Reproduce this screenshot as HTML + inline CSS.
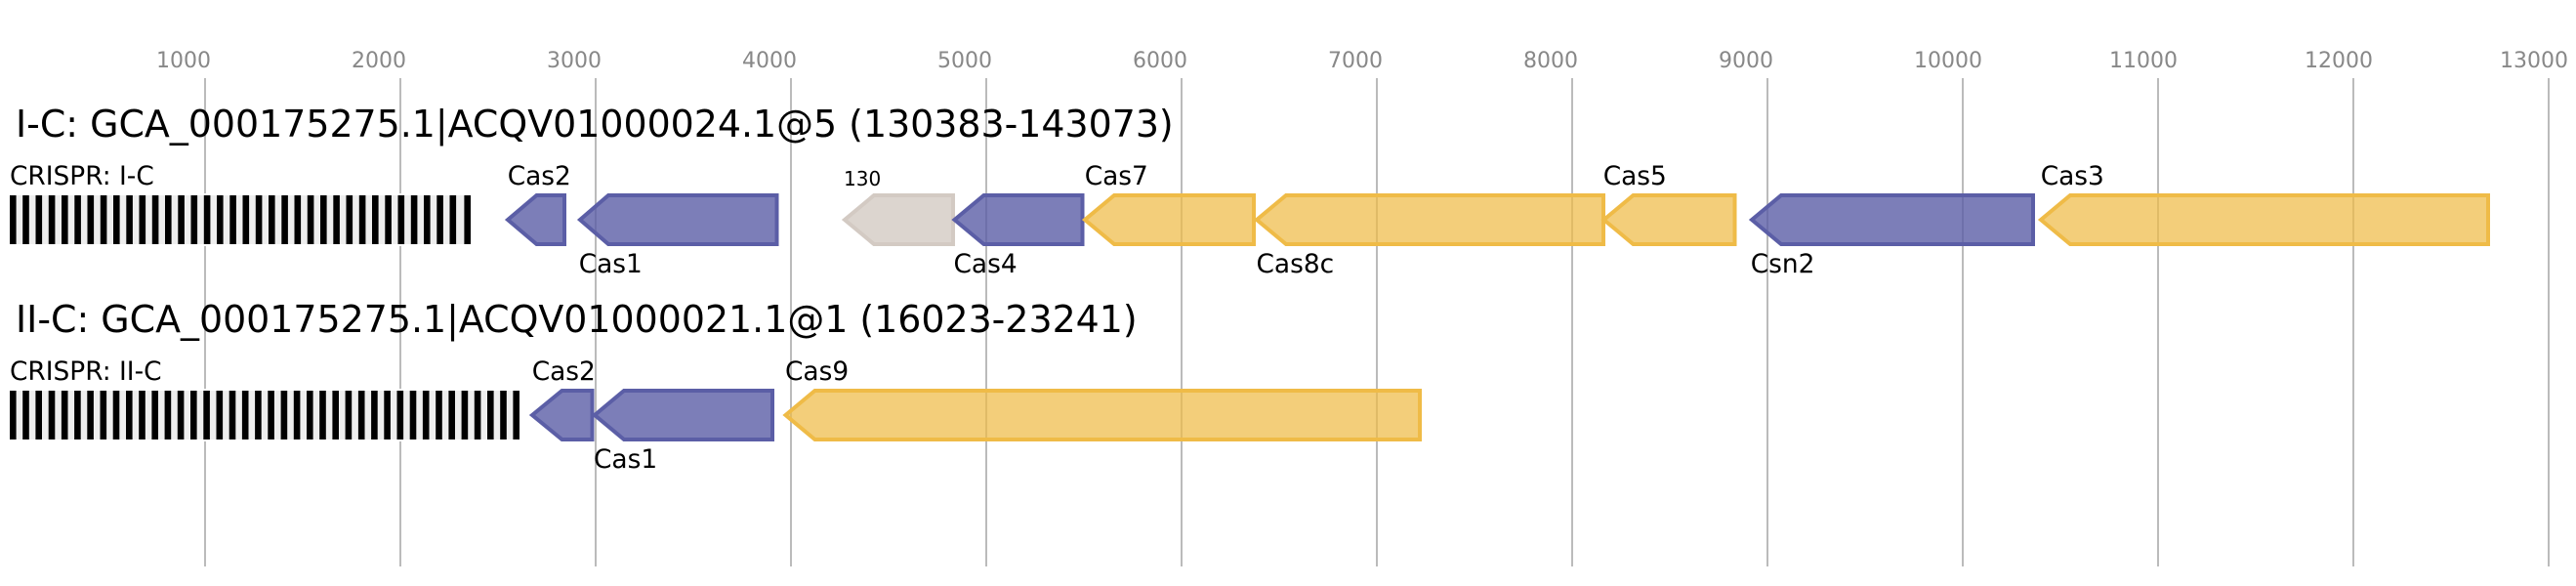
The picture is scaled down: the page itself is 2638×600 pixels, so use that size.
<!DOCTYPE html>
<html>
<head>
<meta charset="utf-8">
<style>
html,body{margin:0;padding:0;background:#fff;}
svg{display:block;}
text{font-family:"DejaVu Sans",sans-serif;}
.t{font-size:22px;fill:#888;}
.h{font-size:37.9px;fill:#000;}
.l{font-size:26.4px;fill:#000;}
.s{font-size:20px;fill:#000;}
.g{stroke:#bbb;stroke-width:2;}
.p{fill:#5b5ea6;fill-opacity:.8;stroke:#5b5ea6;stroke-width:4;stroke-opacity:1;}
.y{fill:#efbb47;fill-opacity:.72;stroke:#efbb47;stroke-width:4;}
.n{fill:#d3cac3;fill-opacity:.8;stroke:#d3cac3;stroke-width:4;}
</style>
</head>
<body>
<svg xmlns="http://www.w3.org/2000/svg" width="2638" height="600" viewBox="0 0 2638 600">
<rect width="2638" height="600" fill="#fff"/>
<g class="g">
<line x1="210" y1="80" x2="210" y2="580"/><line x1="410" y1="80" x2="410" y2="580"/><line x1="610" y1="80" x2="610" y2="580"/><line x1="810" y1="80" x2="810" y2="580"/><line x1="1010" y1="80" x2="1010" y2="580"/><line x1="1210" y1="80" x2="1210" y2="580"/><line x1="1410" y1="80" x2="1410" y2="580"/><line x1="1610" y1="80" x2="1610" y2="580"/><line x1="1810" y1="80" x2="1810" y2="580"/><line x1="2010" y1="80" x2="2010" y2="580"/><line x1="2210" y1="80" x2="2210" y2="580"/><line x1="2410" y1="80" x2="2410" y2="580"/><line x1="2610" y1="80" x2="2610" y2="580"/>
</g>
<g class="t">
<text x="160" y="69">1000</text><text x="360" y="69">2000</text><text x="560" y="69">3000</text><text x="760" y="69">4000</text><text x="960" y="69">5000</text><text x="1160" y="69">6000</text><text x="1360" y="69">7000</text><text x="1560" y="69">8000</text><text x="1760" y="69">9000</text><text x="1960" y="69">10000</text><text x="2160" y="69">11000</text><text x="2360" y="69">12000</text><text x="2560" y="69">13000</text>
</g>
<text class="h" x="16" y="140">I-C: GCA_000175275.1|ACQV01000024.1@5 (130383-143073)</text>
<text class="h" x="16" y="340">II-C: GCA_000175275.1|ACQV01000021.1@1 (16023-23241)</text>
<text class="l" x="10" y="189">CRISPR: I-C</text>
<text class="l" x="10" y="389">CRISPR: II-C</text>

<rect x="8" y="198" width="476" height="54" fill="#fff"/>
<rect x="10" y="200" width="472" height="50" fill="#eee"/>
<g fill="#000">
<rect x="10.0" y="200" width="6.6" height="50"/><rect x="23.2" y="200" width="6.6" height="50"/><rect x="36.5" y="200" width="6.6" height="50"/><rect x="49.8" y="200" width="6.6" height="50"/><rect x="63.0" y="200" width="6.6" height="50"/><rect x="76.3" y="200" width="6.6" height="50"/><rect x="89.5" y="200" width="6.6" height="50"/><rect x="102.8" y="200" width="6.6" height="50"/><rect x="116.0" y="200" width="6.6" height="50"/><rect x="129.3" y="200" width="6.6" height="50"/><rect x="142.5" y="200" width="6.6" height="50"/><rect x="155.8" y="200" width="6.6" height="50"/><rect x="169.0" y="200" width="6.6" height="50"/><rect x="182.3" y="200" width="6.6" height="50"/><rect x="195.5" y="200" width="6.6" height="50"/><rect x="208.8" y="200" width="6.6" height="50"/><rect x="222.0" y="200" width="6.6" height="50"/><rect x="235.3" y="200" width="6.6" height="50"/><rect x="248.5" y="200" width="6.6" height="50"/><rect x="261.8" y="200" width="6.6" height="50"/><rect x="275.0" y="200" width="6.6" height="50"/><rect x="288.3" y="200" width="6.6" height="50"/><rect x="301.5" y="200" width="6.6" height="50"/><rect x="314.8" y="200" width="6.6" height="50"/><rect x="328.0" y="200" width="6.6" height="50"/><rect x="341.3" y="200" width="6.6" height="50"/><rect x="354.5" y="200" width="6.6" height="50"/><rect x="367.8" y="200" width="6.6" height="50"/><rect x="381.0" y="200" width="6.6" height="50"/><rect x="394.3" y="200" width="6.6" height="50"/><rect x="407.5" y="200" width="6.6" height="50"/><rect x="420.8" y="200" width="6.6" height="50"/><rect x="434.0" y="200" width="6.6" height="50"/><rect x="447.3" y="200" width="6.6" height="50"/><rect x="460.5" y="200" width="6.6" height="50"/><rect x="475.4" y="200" width="6.6" height="50"/>
</g>

<rect x="8" y="398" width="526" height="54" fill="#fff"/>
<rect x="10" y="400" width="522" height="50" fill="#eee"/>
<g fill="#000">
<rect x="10.0" y="400" width="6.6" height="50"/><rect x="23.2" y="400" width="6.6" height="50"/><rect x="36.4" y="400" width="6.6" height="50"/><rect x="49.7" y="400" width="6.6" height="50"/><rect x="62.9" y="400" width="6.6" height="50"/><rect x="76.1" y="400" width="6.6" height="50"/><rect x="89.3" y="400" width="6.6" height="50"/><rect x="102.5" y="400" width="6.6" height="50"/><rect x="115.7" y="400" width="6.6" height="50"/><rect x="129.0" y="400" width="6.6" height="50"/><rect x="142.2" y="400" width="6.6" height="50"/><rect x="155.4" y="400" width="6.6" height="50"/><rect x="168.6" y="400" width="6.6" height="50"/><rect x="181.8" y="400" width="6.6" height="50"/><rect x="195.0" y="400" width="6.6" height="50"/><rect x="208.3" y="400" width="6.6" height="50"/><rect x="221.5" y="400" width="6.6" height="50"/><rect x="234.7" y="400" width="6.6" height="50"/><rect x="247.9" y="400" width="6.6" height="50"/><rect x="261.1" y="400" width="6.6" height="50"/><rect x="274.3" y="400" width="6.6" height="50"/><rect x="287.6" y="400" width="6.6" height="50"/><rect x="300.8" y="400" width="6.6" height="50"/><rect x="314.0" y="400" width="6.6" height="50"/><rect x="327.2" y="400" width="6.6" height="50"/><rect x="340.4" y="400" width="6.6" height="50"/><rect x="353.6" y="400" width="6.6" height="50"/><rect x="366.9" y="400" width="6.6" height="50"/><rect x="380.1" y="400" width="6.6" height="50"/><rect x="393.3" y="400" width="6.6" height="50"/><rect x="406.5" y="400" width="6.6" height="50"/><rect x="419.7" y="400" width="6.6" height="50"/><rect x="432.9" y="400" width="6.6" height="50"/><rect x="446.2" y="400" width="6.6" height="50"/><rect x="459.4" y="400" width="6.6" height="50"/><rect x="472.6" y="400" width="6.6" height="50"/><rect x="485.8" y="400" width="6.6" height="50"/><rect x="499.0" y="400" width="6.6" height="50"/><rect x="512.2" y="400" width="6.6" height="50"/><rect x="525.4" y="400" width="6.6" height="50"/>
</g>

<polygon class="p" points="520,225 549.5,200 578,200 578,250 549.5,250"/>
<polygon class="p" points="594,225 623,200 795.5,200 795.5,250 623,250"/>
<polygon class="n" points="865,225 895,200 976,200 976,250 895,250"/>
<polygon class="p" points="977.5,225 1007.5,200 1108.5,200 1108.5,250 1007.5,250"/>
<polygon class="y" points="1111,225 1141,200 1284,200 1284,250 1141,250"/>
<polygon class="y" points="1287,225 1317,200 1642,200 1642,250 1317,250"/>
<polygon class="y" points="1642.5,225 1672.5,200 1776.5,200 1776.5,250 1672.5,250"/>
<polygon class="p" points="1794,225 1824,200 2082,200 2082,250 1824,250"/>
<polygon class="y" points="2090,225 2120,200 2548,200 2548,250 2120,250"/>

<polygon class="p" points="545,425 575.5,400 606.5,400 606.5,450 575.5,450"/>
<polygon class="p" points="609,425 639,400 791,400 791,450 639,450"/>
<polygon class="y" points="804.5,425 834.5,400 1454,400 1454,450 834.5,450"/>

<g class="l">
<text x="519.7" y="189">Cas2</text>
<text x="592.7" y="279">Cas1</text>
<text x="976.5" y="279">Cas4</text>
<text x="1110.7" y="189">Cas7</text>
<text x="1286.5" y="279">Cas8c</text>
<text x="1641.7" y="189">Cas5</text>
<text x="1792.7" y="279">Csn2</text>
<text x="2089.7" y="189">Cas3</text>
<text x="544.7" y="389">Cas2</text>
<text x="608" y="479">Cas1</text>
<text x="804" y="389">Cas9</text>
</g>
<text class="s" x="864" y="190">130</text>
</svg>
</body>
</html>
